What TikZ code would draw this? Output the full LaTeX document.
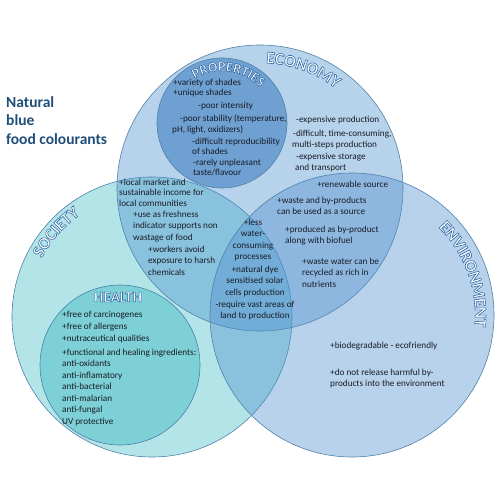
\documentclass[tikz,border=0pt]{standalone}
\usepackage{fontspec}
\setmainfont{Carlito}
\usetikzlibrary{decorations.text}
\definecolor{socfill}{RGB}{63,188,197}
\definecolor{hltfill}{RGB}{45,178,187}
\definecolor{ecofill}{RGB}{75,143,205}
\definecolor{envfill}{RGB}{78,143,205}
\definecolor{prpfill}{RGB}{0,85,172}
\definecolor{rim}{RGB}{80,128,170}
\definecolor{ink}{RGB}{25,28,38}
\definecolor{titleblue}{RGB}{31,78,121}
\newcommand{\outlined}{\color{white}\special{pdf:literal direct 2 Tr 0.6 w 0.2 0.42 0.66 RG}}
\newcommand{\bigLbl}{\fontsize{17}{17}\selectfont\bfseries\outlined}
\newcommand{\smallLbl}{\fontsize{14}{14}\selectfont\bfseries\outlined}

\begin{document}
\begin{tikzpicture}[x=1pt, y=1pt,
    venn/.style={fill=#1, fill opacity=0.4, draw=rim, line width=0.6pt},
    txt/.style={font=\fontsize{9.2}{11.4}\selectfont, text=ink, align=left, anchor=north west, inner sep=0pt},
    ptxt/.style={txt, font=\fontsize{9.2}{10.5}\selectfont},
    ctxt/.style={txt, align=center, anchor=north},
    curved/.style={decorate, decoration={text along path, text align=center, text={#1}}}]
    \useasboundingbox (0,0) rectangle (500,500);

    % Circles
    \coordinate (soc) at (152,183);
    \coordinate (hlt) at (120,135);
    \coordinate (eco) at (260,312);
    \coordinate (env) at (352,185);
    \coordinate (prp) at (222,377);
    \path[venn=socfill] (soc) circle[radius=140];
    \path[venn=hltfill] (hlt) circle[radius=80];
    \path[venn=ecofill] (eco) circle[radius=143];
    \path[venn=envfill] (env) circle[radius=142];
    \path[venn=prpfill] (prp) circle[radius=65];

    % Title
    \node[font=\fontsize{15.5}{18.5}\selectfont\bfseries, text=titleblue, align=left, anchor=north west, inner sep=0pt] (title) at (6,404) {Natural\\blue\\food colourants};

    % Properties
    \node[ptxt] (pShades) at (173,421.3) {+variety of shades\\+unique shades};
    \node[ptxt] (pIntensity) at (198,398.3) {-poor intensity};
    \node[ptxt] (pStability) at (172,385.3) {\hspace*{8pt}-poor stability (temperature,\\pH, light, oxidizers)};
    \node[ptxt] (pRepro) at (192,362.3) {-difficult reproducibility\\of shades};
    \node[ptxt] (pTaste) at (193,341.3) {-rarely unpleasant\\taste/flavour};

    % Economy
    \node[txt] (eCost) at (296,384.3) {-expensive production};
    \node[txt] (eSteps) at (292,370.3) {\hspace*{1pt}-difficult, time-consuming,\\multi-steps production};
    \node[txt, font=\fontsize{9.2}{11}\selectfont] (eStore) at (295,347.3) {\hspace*{1pt}-expensive storage\\and transport};

    % Economy and environment
    \node[txt] (eeSource) at (317,319.3) {+renewable source};
    \node[txt] (eeWaste) at (277,303.3) {+waste and by-products\\can be used as a source};
    \node[txt] (eeFuel) at (285,274.3) {+produced as by-product\\along with biofuel};
    \node[txt] (eeWater) at (302,242.3) {+waste water can be\\recycled as rich in\\nutrients};

    % All three
    \node[ctxt] (tWater) at (253,281.3) {+less\\water-\\consuming\\processes};
    \node[ctxt] (tSolar) at (255,234.3) {+natural dye\\sensitised solar\\cells production};
    \node[ctxt] (tLand) at (255,199.3) {-require vast areas of\\land to production};

    % Society and economy
    \node[txt, font=\fontsize{9.2}{10.5}\selectfont] (seMarket) at (119,321.3) {+local market and\\sustainable income for\\local communities};
    \node[txt] (seFresh) at (133,289.3) {+use as freshness\\indicator supports non\\wastage of food};
    \node[txt] (seWorkers) at (148,254.3) {+workers avoid\\exposure to harsh\\chemicals};

    % Health
    \node[txt, font=\fontsize{9.2}{12}\selectfont] (hFree) at (62,189.3) {+free of carcinogenes\\+free of allergens\\+nutraceutical qualities};
    \node[txt, font=\fontsize{9.2}{11.5}\selectfont] (hHeal) at (62,151.3) {+functional and healing ingredients:\\anti-oxidants\\anti-inflamatory\\anti-bacterial\\anti-malarian\\anti-fungal\\UV protective};

    % Environment
    \node[txt] (vBio) at (330,158.3) {+biodegradable - ecofriendly};
    \node[txt] (vHarm) at (330,131.3) {+do not release harmful by-\\products into the environment};

    % Labels
    \node[font=\fontsize{15}{15}\selectfont\bfseries, inner sep=0pt] (healthLbl) at (118,203) {\outlined HEALTH};
    \path[curved={|\bigLbl|ECONOMY}] (eco) ++(110:125) arc[start angle=110, end angle=30, radius=125];
    \path[curved={|\bigLbl|SOCIETY}] (soc) ++(178.5:125) arc[start angle=178.5, end angle=98.5, radius=125];
    \path[curved={|\bigLbl|ENVIRONMENT}] (env) ++(60:123) arc[start angle=60, end angle=-20, radius=123];
    \path[curved={|\smallLbl|PROPERTIES}] (prp) ++(130:52) arc[start angle=130, end angle=35, radius=52];
\end{tikzpicture}
\end{document}
